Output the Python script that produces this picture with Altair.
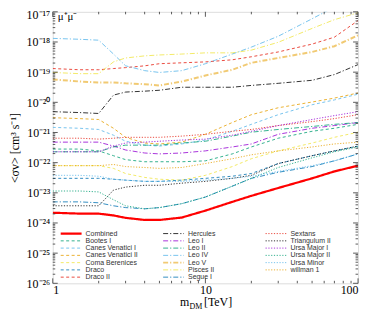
import json
import altair as alt
import pandas as pd

# ---------------- data (log10 <sigma v>) ----------------
mass = [1, 1.5, 2, 2.5, 3, 4, 5, 7, 10, 15, 20, 30, 50, 70, 100]

combined = [-23.66, -23.69, -23.69, -23.75, -23.83, -23.90, -23.90, -23.82, -23.59, -23.30, -23.10, -22.84, -22.52, -22.29, -22.10]
bootes_i = [-21.55, -21.55, -21.61, -21.77, -21.90, -21.97, -21.97, -21.97, -21.94, -21.71, -21.48, -21.19, -20.96, -20.86, -20.73]
cvn_i = [-20.83, -20.86, -20.90, -21.09, -21.29, -21.42, -21.45, -21.38, -21.25, -20.96, -20.73, -20.41, -20.08, -19.92, -19.73]
cvn_ii = [-20.51, -20.54, -20.57, -20.86, -21.16, -21.35, -21.38, -21.32, -21.06, -20.67, -20.41, -20.18, -19.99, -19.86, -19.69]
coma = [-22.10, -22.10, -22.10, -22.19, -22.36, -22.49, -22.55, -22.58, -22.42, -22.13, -21.87, -21.61, -21.35, -21.16, -20.99]
draco = [-22.52, -22.52, -22.52, -22.55, -22.58, -22.62, -22.62, -22.58, -22.52, -22.45, -22.36, -22.03, -21.77, -21.61, -21.45]
draco_ii = [-18.88, -18.92, -18.92, -18.88, -18.85, -18.79, -18.72, -18.69, -18.66, -18.59, -18.49, -18.33, -18.07, -17.84, -17.29]
hercules = [-20.31, -20.34, -20.37, -19.76, -19.66, -19.63, -19.60, -19.50, -19.50, -19.50, -19.44, -19.37, -19.27, -19.08, -18.75]
leo_i = [-21.32, -21.32, -21.32, -21.45, -21.58, -21.68, -21.71, -21.68, -21.61, -21.48, -21.38, -21.06, -20.86, -20.77, -20.67]
leo_ii = [-21.64, -21.64, -21.64, -21.48, -21.42, -21.42, -21.42, -21.35, -21.29, -21.12, -20.99, -20.90, -20.80, -20.73, -20.67]
leo_iv = [-17.88, -17.91, -17.94, -18.40, -18.79, -18.95, -19.01, -18.95, -18.72, -18.40, -18.17, -17.81, -17.23, -16.84, -16.58]
leo_v = [-19.24, -19.31, -19.34, -19.34, -19.37, -19.40, -19.44, -19.31, -19.11, -18.92, -18.69, -18.53, -18.33, -18.14, -17.78]
pisces_ii = [-19.01, -19.05, -19.05, -18.66, -18.53, -18.46, -18.43, -18.40, -18.36, -18.36, -18.27, -18.01, -17.55, -17.26, -17.03]
segue_i = [-23.30, -23.30, -23.33, -23.43, -23.49, -23.53, -23.49, -23.36, -23.14, -22.78, -22.52, -22.32, -22.13, -21.94, -21.71]
sextans = [-21.19, -21.19, -21.22, -21.19, -21.16, -21.16, -21.16, -21.12, -21.06, -20.96, -20.90, -20.77, -20.64, -20.54, -20.41]
triangulum_ii = [-23.43, -23.43, -23.43, -22.91, -22.81, -22.75, -22.75, -22.68, -22.62, -22.52, -22.42, -22.03, -21.77, -21.61, -21.45]
uma_i = [-21.64, -21.64, -21.64, -21.45, -21.35, -21.32, -21.29, -21.25, -21.22, -21.09, -20.96, -20.77, -20.57, -20.44, -20.31]
uma_ii = [-22.94, -22.94, -22.97, -23.23, -23.43, -23.53, -23.49, -23.36, -23.14, -22.78, -22.52, -22.16, -21.84, -21.64, -21.48]
umi = [-22.42, -22.42, -22.45, -22.55, -22.58, -22.62, -22.62, -22.62, -22.58, -22.52, -22.45, -22.29, -22.10, -21.94, -21.71]
willman_1 = [-22.10, -22.10, -22.10, -22.06, -22.13, -22.16, -22.19, -22.16, -22.03, -21.87, -21.74, -21.61, -21.48, -21.38, -21.32]

names = ["Combined", "Bootes I", "Canes Venatici I", "Canes Venatici II", "Coma Berenices",
         "Draco", "Draco II", "Hercules", "Leo I", "Leo II", "Leo IV", "Leo V", "Pisces II",
         "Segue I", "Sextans", "Triangulum II", "Ursa Major I", "Ursa Major II", "Ursa Minor",
         "willman 1"]
values = [combined, bootes_i, cvn_i, cvn_ii, coma, draco, draco_ii, hercules, leo_i, leo_ii,
          leo_iv, leo_v, pisces_ii, segue_i, sextans, triangulum_ii, uma_i, uma_ii, umi, willman_1]

PURPLE, GREEN, LBLUE, ORANGE = "#9400d3", "#009e73", "#56b4e9", "#e69f00"
YELLOW, BLUE, RED, BLACK = "#f0e442", "#0072b2", "#e51e10", "#000000"
colors = ["#ff0000", GREEN, LBLUE, ORANGE, YELLOW, BLUE, RED,
          BLACK, PURPLE, GREEN, LBLUE, ORANGE, YELLOW, BLUE,
          RED, BLACK, PURPLE, GREEN, LBLUE, ORANGE]
DASHED, DASHDOT, DOTTED = [3, 2.5], [5, 2, 1.2, 2], [1.2, 1.6]
dashes = [[1, 0]] + [DASHED] * 6 + [DASHDOT] * 7 + [DOTTED] * 6
thick = {"Combined": 2.2, "Leo V": 2.0}

y_tick_values = [1e-26, 1e-25, 1e-24, 1e-23, 1e-22, 1e-21, 1e-20, 1e-19, 1e-18, 1e-17]
y_tick_labels = ["10⁻²⁶", "10⁻²⁵", "10⁻²⁴", "10⁻²³", "10⁻²²", "10⁻²¹", "10⁻²⁰", "10⁻¹⁹", "10⁻¹⁸", "10⁻¹⁷"]
x_tick_values = [1, 10, 100]
x_tick_labels = ["1", "10", "100"]

# ---------------- tables ----------------
rows = []
for name, vals in zip(names, values):
    for m, lv in zip(mass, vals):
        rows.append({"series": name, "m": m, "sv": 10 ** lv})
df = pd.DataFrame(rows)

W, H = 307, 273
SERIF = "Liberation Serif"
SANS = "Liberation Sans"

xs = alt.Scale(type="log", domain=[1, 100], nice=False)
ys = alt.Scale(type="log", domain=[1e-26, 1e-17], nice=False)
color_scale = alt.Scale(domain=names, range=colors)
dash_scale = alt.Scale(domain=names, range=dashes)

y_label_expr = json.dumps(y_tick_labels, ensure_ascii=False) + "[round(log(datum.value)/LN10)+26]"
x_label_expr = json.dumps(x_tick_labels) + "[round(log(datum.value)/LN10)]"

x_axis = alt.Axis(values=x_tick_values, labelExpr=x_label_expr, ticks=False, domain=False, grid=False,
                  labelFont=SERIF, labelFontSize=12, labelColor="#000", labelPadding=1, title=None)
y_axis = alt.Axis(values=y_tick_values, labelExpr=y_label_expr, ticks=False, domain=False, grid=False,
                  labelFont=SERIF, labelFontSize=12, labelColor="#000", labelPadding=3,
                  labelOffset={"condition": {"test": "datum.value > 5e-18", "value": 3}, "value": 0},
                  title="<σv> [cm³ s⁻¹]", titleFont=SERIF, titleFontSize=12,
                  titleFontWeight="normal", titleColor="#000", titlePadding=5)
X = alt.X("m:Q", scale=xs, axis=x_axis)
Y = alt.Y("sv:Q", scale=ys, axis=y_axis)

col_enc = dict(
    color=alt.Color("series:N", scale=color_scale, legend=None),
    strokeDash=alt.StrokeDash("series:N", scale=dash_scale, legend=None),
)

base = alt.Chart(df)
thin_filter = alt.FieldOneOfPredicate(field="series", oneOf=[n for n in names if n not in thick])
lines = [base.transform_filter(thin_filter).mark_line(clip=True, strokeWidth=1, opacity=0.8)
         .encode(x=X, y=Y, **col_enc)]
for n in ["Leo V", "Combined"]:
    lines.append(base.transform_filter(alt.datum.series == n)
                 .mark_line(clip=True, strokeWidth=thick[n], opacity=1 if n == "Combined" else 0.55)
                 .encode(x=X, y=Y, **col_enc))

# ---------------- inner ticks (all four sides) ----------------
y_minor = [k * 10.0 ** e for e in range(-26, -17) for k in range(2, 10)]
x_minor = [k * 10.0 ** e for e in range(0, 2) for k in range(2, 10)]

def yticks(vals, length, left):
    d = pd.DataFrame({"sv": vals})
    x0, x1 = (0, length) if left else (W, W - length)
    return alt.Chart(d).mark_rule(color="#333", strokeWidth=0.8).encode(
        y=Y, x=alt.value(x0), x2=alt.value(x1))

def xticks(vals, length, bottom):
    d = pd.DataFrame({"m": vals})
    y0, y1 = (H, H - length) if bottom else (0, length)
    return alt.Chart(d).mark_rule(color="#333", strokeWidth=0.8).encode(
        x=X, y=alt.value(y0), y2=alt.value(y1))

ticks = [yticks(y_tick_values, 5, True), yticks(y_tick_values, 5, False),
         yticks(y_minor, 2.5, True), yticks(y_minor, 2.5, False),
         xticks(x_tick_values, 5, True), xticks(x_tick_values, 5, False),
         xticks(x_minor, 2.5, True), xticks(x_minor, 2.5, False)]

# ---------------- legend (3 columns, column-major) ----------------
leg = pd.DataFrame({"series": names})
leg["col"] = [i // 7 for i in range(len(names))]
leg["row"] = [i % 7 for i in range(len(names))]
leg["lx"] = 8 + leg["col"] * 103
leg["lx2"] = leg["lx"] + 21
leg["tx"] = leg["lx"] + 25
leg["ly"] = H - 50 + leg["row"] * 7.3
leg["w"] = [thick.get(n, 1) for n in names]
leg["op"] = [1 if n == "Combined" else (0.55 if n == "Leo V" else 0.8) for n in names]

leg_lines = alt.Chart(leg).mark_rule().encode(
    x=alt.X("lx:Q", scale=None), x2="lx2:Q", y=alt.Y("ly:Q", scale=None),
    strokeWidth=alt.StrokeWidth("w:Q", scale=None, legend=None),
    opacity=alt.Opacity("op:Q", scale=None, legend=None), **col_enc)
leg_text = alt.Chart(leg).mark_text(align="left", baseline="middle", font=SANS, fontSize=7,
                                    color="#333").encode(
    x=alt.X("tx:Q", scale=None), y=alt.Y("ly:Q", scale=None), text="series:N")

# ---------------- text annotations ----------------
def label(t, x, y, size, baseline="alphabetic"):
    return alt.Chart(pd.DataFrame({"t": [t]})).mark_text(
        align="left", baseline=baseline, font=SERIF, fontSize=size, color="#000").encode(
        x=alt.value(x), y=alt.value(y), text="t:N")

annotations = [label("μ⁺μ⁻", 5, 5, 11, "middle"),
               label("m", 128, H + 23, 12), label("DM", 137.5, H + 26, 8), label("[TeV]", 152, H + 23, 12)]

chart = alt.layer(*lines, *ticks, leg_lines, leg_text, *annotations).properties(
    width=W, height=H,
    autosize=alt.AutoSizeParams(type="none"),
    padding={"left": 45, "top": 3, "right": 8, "bottom": 28},
).configure_view(stroke="#333", strokeWidth=1).configure(background="white")

chart.save("out.html", embed_options={"renderer": "svg", "actions": False})
